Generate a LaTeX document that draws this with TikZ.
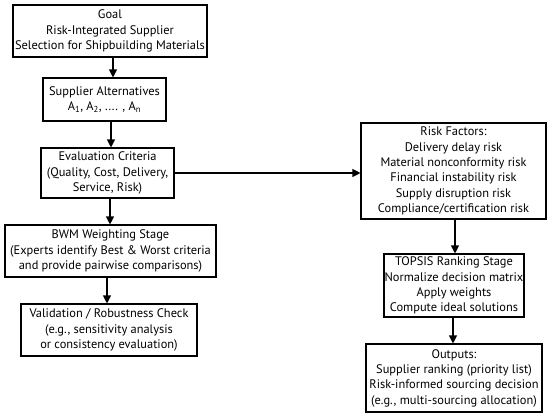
\documentclass[tikz,border=0pt]{standalone}
\usepackage{fontspec}
\setmainfont{PT Sans}
\usetikzlibrary{arrows.meta}
\begin{document}
\begin{tikzpicture}[x=1pt,y=-1pt,
  box/.style={draw=black,line width=1.1pt,fill=white,align=center,inner sep=0pt,font=\fontsize{12.4}{15.3}\selectfont},
  arr/.style={line width=1.1pt,-{Triangle[width=8pt,length=8pt]}}]
\useasboundingbox (0,0) rectangle (550,416);
\node[box,minimum width=194pt,minimum height=52pt] (goal) at (110,31) {Goal\\Risk-Integrated Supplier\\Selection for Shipbuilding Materials};
\node[box,minimum width=123pt,minimum height=43pt] (supp) at (104.5,99.5) {Supplier Alternatives\\A\textsubscript{1}, A\textsubscript{2}, .... , A\textsubscript{n}};
\node[box,minimum width=133pt,minimum height=50pt] (eval) at (107.5,173) {Evaluation Criteria\\(Quality, Cost, Delivery,\\Service, Risk)};
\node[box,minimum width=211pt,minimum height=52pt] (bwm) at (110.5,251) {BWM Weighting Stage\\(Experts identify Best \& Worst criteria\\and provide pairwise comparisons)};
\node[box,minimum width=176pt,minimum height=52pt] (val) at (109,330) {Validation / Robustness Check\\(e.g., sensitivity analysis\\or consistency evaluation)};
\node[box,minimum width=185pt,minimum height=96pt] (risk) at (453.5,171) {Risk Factors:\\Delivery delay risk\\Material nonconformity risk\\Financial instability risk\\Supply disruption risk\\Compliance/certification risk};
\node[box,minimum width=140pt,minimum height=63pt] (topsis) at (454,285.5) {TOPSIS Ranking Stage\\Normalize decision matrix\\Apply weights\\Compute ideal solutions};
\node[box,minimum width=176pt,minimum height=68pt] (out) at (454,378) {Outputs:\\Supplier ranking (priority list)\\Risk-informed sourcing decision\\(e.g., multi-sourcing allocation)};
\draw[arr] ([xshift=3pt]goal.south) -- ([xshift=3pt]goal.south |- supp.north);
\draw[arr] ([xshift=6.5pt]supp.south) -- ([xshift=6.5pt]supp.south |- eval.north);
\draw[arr] ([xshift=2.5pt]eval.south) -- ([xshift=2.5pt]eval.south |- bwm.north);
\draw[arr] ([xshift=-3.5pt]bwm.south) -- ([xshift=-3.5pt]bwm.south |- val.north);
\draw[arr] (eval.east) -- (risk.west |- eval.east);
\draw[arr] ([xshift=1.5pt]risk.south) -- ([xshift=1.5pt]risk.south |- topsis.north);
\draw[arr] ([xshift=-1pt]topsis.south) -- ([xshift=-1pt]topsis.south |- out.north);
\end{tikzpicture}
\end{document}
